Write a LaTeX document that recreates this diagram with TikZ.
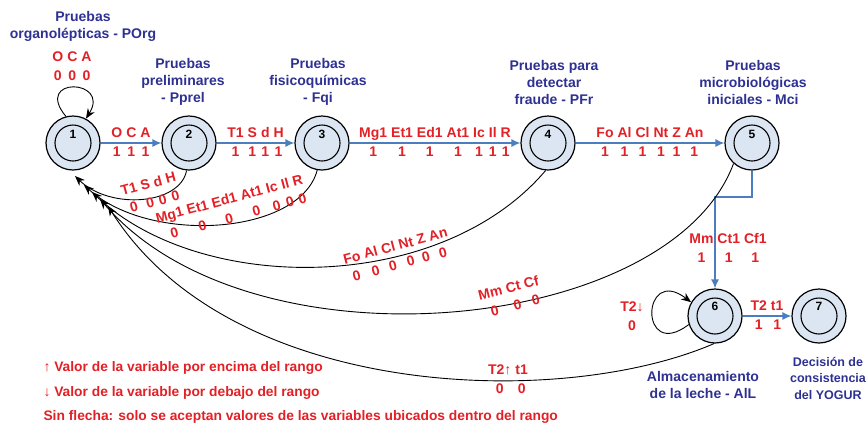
\documentclass[tikz,border=0pt]{standalone}
\usepackage{fontspec}
\setmainfont{Liberation Sans}
\usetikzlibrary{arrows.meta}
\definecolor{titleblue}{RGB}{46,49,146}
\definecolor{varred}{RGB}{226,32,38}
\definecolor{linkblue}{RGB}{74,126,192}
\definecolor{statefill}{RGB}{220,230,242}
\setlength{\tabcolsep}{2pt}
\renewcommand{\arraystretch}{1.1}
\tikzset{
  state/.style={circle,draw,line width=1.2pt,fill=statefill,minimum size=54pt,inner sep=0pt,
    path picture={\draw[line width=1.1pt] (path picture bounding box.center) circle (18pt);}},
  num/.style={font=\fontsize{12}{14}\selectfont\bfseries,inner sep=0pt},
  title/.style={align=center,text=titleblue,font=\fontsize{14}{17}\selectfont\bfseries},
  vars/.style={text=varred,font=\fontsize{14}{17}\selectfont\bfseries,inner sep=0pt},
  fwd/.style={draw=linkblue,line width=1.3pt,-{Latex[length=9pt,width=8pt]}},
  back/.style={draw=black,line width=0.9pt,-{Stealth[length=10pt,width=8pt]}},
  note/.style={anchor=west,text=varred,font=\fontsize{13.8}{16}\selectfont\bfseries},
}

\begin{document}
\begin{tikzpicture}[x=1pt,y=1pt]
\useasboundingbox (0,0) rectangle (866,-424);
\node[state] (s1) at (73,-143) {};
\node[num] (n1) at (73,-134) {1};
\node[state] (s2) at (189,-143) {};
\node[num] (n2) at (189,-134) {2};
\node[state] (s3) at (322,-143) {};
\node[num] (n3) at (322,-134) {3};
\node[state] (s4) at (548,-143) {};
\node[num] (n4) at (548,-134) {4};
\node[state] (s5) at (752,-143) {};
\node[num] (n5) at (752,-134) {5};
\node[state] (s6) at (715,-316) {};
\node[num] (n6) at (715,-306) {6};
\node[state] (s7) at (819,-316) {};
\node[num] (n7) at (819,-306) {7};

\node[title] (l1) at (83,-26) {Pruebas\\organolépticas - POrg};
\node[title] (l2) at (183,-82) {Pruebas\\preliminares\\- Pprel};
\node[title] (l3) at (318,-82) {Pruebas\\fisicoquímicas\\- Fqi};
\node[title] (l4) at (554,-82) {Pruebas para\\detectar\\fraude - PFr};
\node[title] (l5) at (753,-82) {Pruebas\\microbiológicas\\iniciales - Mci};
\node[title] (l6) at (703,-385) {Almacenamiento\\de la leche - AlL};
\node[title,font=\fontsize{12.5}{16.5}\selectfont\bfseries] (l7) at (828,-378) {Decisión de\\consistencia\\del YOGUR};

\draw[fwd] (s1) -- (s2) node[vars,midway] (v12) {\begin{tabular}{ccc}O&C&A\\1&1&1\end{tabular}};
\draw[fwd] (s2) -- (s3) node[vars,midway] (v23) {\begin{tabular}{cccc}T1&S&d&H\\1&1&1&1\end{tabular}};
\draw[fwd] (s3) -- (s4) node[vars,midway] (v34) {\begin{tabular}{ccccccc}Mg1&Et1&Ed1&At1&Ic&Il&R\\1&1&1&1&1&1&1\end{tabular}};
\draw[fwd] (s4) -- (s5) node[vars,midway] (v45) {\begin{tabular}{cccccc}Fo&Al&Cl&Nt&Z&An\\1&1&1&1&1&1\end{tabular}};
\coordinate (k5) at (752,-197);
\draw[fwd] (s5) -- (k5) -| (s6);
\node[vars] (v56) at (728,-249) {\begin{tabular}{ccc}Mm&Ct1&Cf1\\1&1&1\end{tabular}};
\draw[fwd] (s6) -- (s7) node[vars,midway] (v67) {\begin{tabular}{cc}T2&t1\\1&1\end{tabular}};

\draw[back] (s1.105) .. controls +(-33,40) and +(25,40) .. (s1.62);
\node[vars] (v11) at (72,-67) {\begin{tabular}{ccc}O&C&A\\0&0&0\end{tabular}};
\draw[back] (s6.198) .. controls +(-50,-38) and +(-50,38) .. (s6.150);
\node[vars] (v66) at (632,-317) {\begin{tabular}{c}T2↓\\0\end{tabular}};

\coordinate (r1) at (75,-176);
\coordinate (r2) at (84,-185);
\coordinate (r3) at (92,-192);
\coordinate (r4) at (100,-199);
\coordinate (r5) at (108,-206);
\draw[back] (s2.265) .. controls (180,-205) and (110,-210) .. (r1);
\draw[back] (s3.260) .. controls (300,-235) and (150,-245) .. (r2);
\draw[back] (s4.265) .. controls (440,-295) and (200,-295) .. (r3);
\draw[back] (s5.228) .. controls (670,-335) and (250,-375) .. (r4);
\draw[back] (s6.268) .. controls (560,-410) and (230,-400) .. (r5);
\node[vars,rotate=15] (v21) at (151,-194) {\begin{tabular}{cccc}T1&S&d&H\\0&0&0&0\end{tabular}};
\node[vars,rotate=15] (v31) at (232,-209) {\begin{tabular}{ccccccc}Mg1&Et1&Ed1&At1&Ic&Il&R\\0&0&0&0&0&0&0\end{tabular}};
\node[vars,rotate=15] (v41) at (398,-256) {\begin{tabular}{cccccc}Fo&Al&Cl&Nt&Z&An\\0&0&0&0&0&0\end{tabular}};
\node[vars,rotate=14] (v51) at (511,-298) {\begin{tabular}{ccc}Mm&Ct&Cf\\0&0&0\end{tabular}};
\node[vars] (v61) at (508,-380) {\begin{tabular}{cc}T2↑&t1\\0&0\end{tabular}};

\node[note] (k1) at (40,-368) {↑ Valor de la variable por encima del rango};
\node[note] (k2) at (40,-393) {↓ Valor de la variable por debajo del rango};
\node[note] (k3) at (40,-417) {Sin flecha: solo se aceptan valores de las variables ubicados dentro del rango};
\end{tikzpicture}
\end{document}
